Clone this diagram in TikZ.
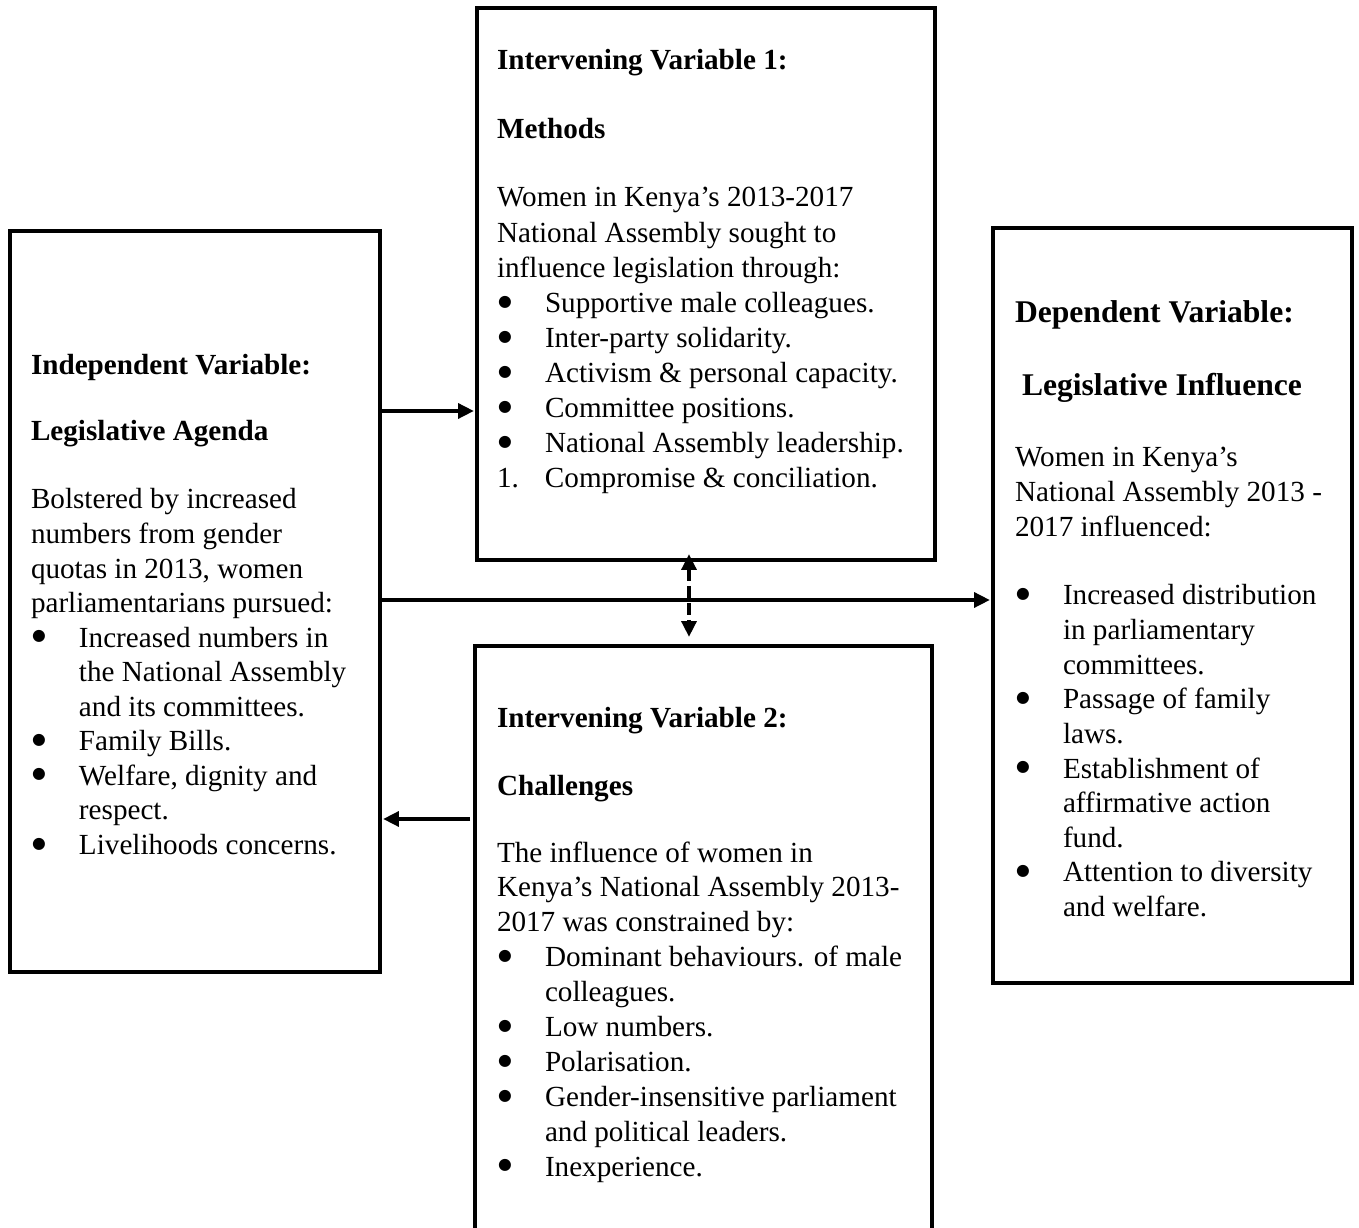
\documentclass[tikz,border=0pt]{standalone}
\usepackage{fontspec}
\setmainfont{Liberation Serif}
\newfontfamily\dvs{DejaVu Sans}
\usetikzlibrary{arrows.meta}
\newlength\pxl
\setlength\pxl{0.4115pt}
\newcommand\bigbul{\raisebox{2.5pt}{\dvs\fontsize{6.5pt}{6.5pt}\selectfont ●}}
\newcommand\tline[1]{\hbox{#1}}
\newcommand\bline[1]{\hbox{\makebox[48\pxl][l]{\hspace*{1\pxl}\bigbul}#1}}
\newcommand\iline[1]{\hbox{\hspace*{48\pxl}#1}}
\newcommand\nline[2]{\hbox{\makebox[48\pxl][l]{#1}#2}}
\begin{document}
\begin{tikzpicture}[x=1\pxl,y=-1\pxl,
  box/.style={draw=black,line width=4\pxl,inner sep=0,outer sep=0},
  txt/.style={anchor=base west,inner sep=0,outer sep=0,font=\fontsize{12pt}{14.3pt}\selectfont},
  hd/.style={txt,font=\fontsize{12pt}{14.3pt}\selectfont\bfseries},
  hdbig/.style={txt,font=\fontsize{13pt}{15.5pt}\selectfont\bfseries},
  arr/.style={line width=4\pxl,-{Triangle[length=6.5pt,width=6pt]}},
  darr/.style={line width=4\pxl,{Triangle[length=6.5pt,width=6pt]}-{Triangle[length=6.5pt,width=6pt]},dash pattern=on 5pt off 2pt}]
\useasboundingbox (0,0) rectangle (1359,1228);
\fill[white] (0,0) rectangle (1359,1228);
% boxes
\node[box,minimum width=370\pxl,minimum height=741\pxl] (L) at (195,601.5) {};
\node[box,minimum width=458\pxl,minimum height=552\pxl] (T) at (706,284) {};
\node[box,minimum width=359\pxl,minimum height=755\pxl] (R) at (1172.5,605.5) {};
\node[inner sep=0,outer sep=0,minimum width=457\pxl,minimum height=582\pxl] (B) at (703.5,937) {};
\draw[line width=4\pxl] (B.south west) -- (B.north west) -- (B.north east) -- (B.south east);
% left box text
\node[hd] (L1) at (31,375) {Independent Variable:};
\node[hd] (L2) at (31,441) {Legislative Agenda};
\node[txt,font=\fontsize{12pt}{14.2pt}\selectfont] (L3) at (31,509) {\vtop{%
 \tline{Bolstered by increased}
 \tline{numbers from gender}
 \tline{quotas in 2013, women}
 \tline{parliamentarians pursued:}
 \bline{Increased numbers in}
 \iline{the National Assembly}
 \iline{and its committees.}
 \bline{Family Bills.}
 \bline{Welfare, dignity and}
 \iline{respect.}
 \bline{Livelihoods concerns.}}};
% top box text
\node[hd] (T1) at (497,70) {Intervening Variable 1:};
\node[hd] (T2) at (497,139) {Methods};
\node[txt,font=\fontsize{12pt}{14.44pt}\selectfont] (T3) at (497,207) {\vtop{%
 \tline{Women in Kenya’s 2013-2017}
 \tline{National Assembly sought to}
 \tline{influence legislation through:}
 \bline{Supportive male colleagues.}
 \bline{Inter-party solidarity.}
 \bline{Activism \& personal capacity.}
 \bline{Committee positions.}
 \bline{National Assembly leadership.}
 \nline{1.}{Compromise \& conciliation.}}};
% right box text
\node[hdbig] (R1) at (1015,323) {Dependent Variable:};
\node[hdbig] (R2) at (1022,396) {Legislative Influence};
\node[txt,font=\fontsize{12pt}{14.24pt}\selectfont] (R3) at (1015,467) {\vtop{%
 \tline{Women in Kenya’s}
 \tline{National Assembly 2013 -}
 \tline{2017 influenced:}}};
\node[txt,font=\fontsize{12pt}{14.24pt}\selectfont] (R4) at (1015,605) {\vtop{%
 \bline{Increased distribution}
 \iline{in parliamentary}
 \iline{committees.}
 \bline{Passage of family}
 \iline{laws.}
 \bline{Establishment of}
 \iline{affirmative action}
 \iline{fund.}
 \bline{Attention to diversity}
 \iline{and welfare.}}};
% bottom box text
\node[hd] (B1) at (497,728) {Intervening Variable 2:};
\node[hd] (B2) at (497,795) {Challenges};
\node[txt,font=\fontsize{12pt}{14.36pt}\selectfont] (B3) at (497,862) {\vtop{%
 \tline{The influence of women in}
 \tline{Kenya’s National Assembly 2013-}
 \tline{2017 was constrained by:}
 \bline{Dominant behaviours. of male}
 \iline{colleagues.}
 \bline{Low numbers.}
 \bline{Polarisation.}
 \bline{Gender-insensitive parliament}
 \iline{and political leaders.}
 \bline{Inexperience.}}};
% connectors
\coordinate (y411) at (0,411);
\coordinate (y600) at (0,600);
\coordinate (y819) at (0,819);
\coordinate (x689) at (689,0);
\draw[arr,shorten >=3\pxl] (L.east |- y411) -- (T.west |- y411);
\draw[arr,shorten >=3\pxl] (L.east |- y600) -- (R.west |- y600);
\draw[darr,shorten <=-6\pxl,shorten >=9\pxl] (T.south -| x689) -- (B.north -| x689);
\draw[arr,shorten <=5\pxl,shorten >=3\pxl] (B.west |- y819) -- (L.east |- y819);
\end{tikzpicture}
\end{document}
